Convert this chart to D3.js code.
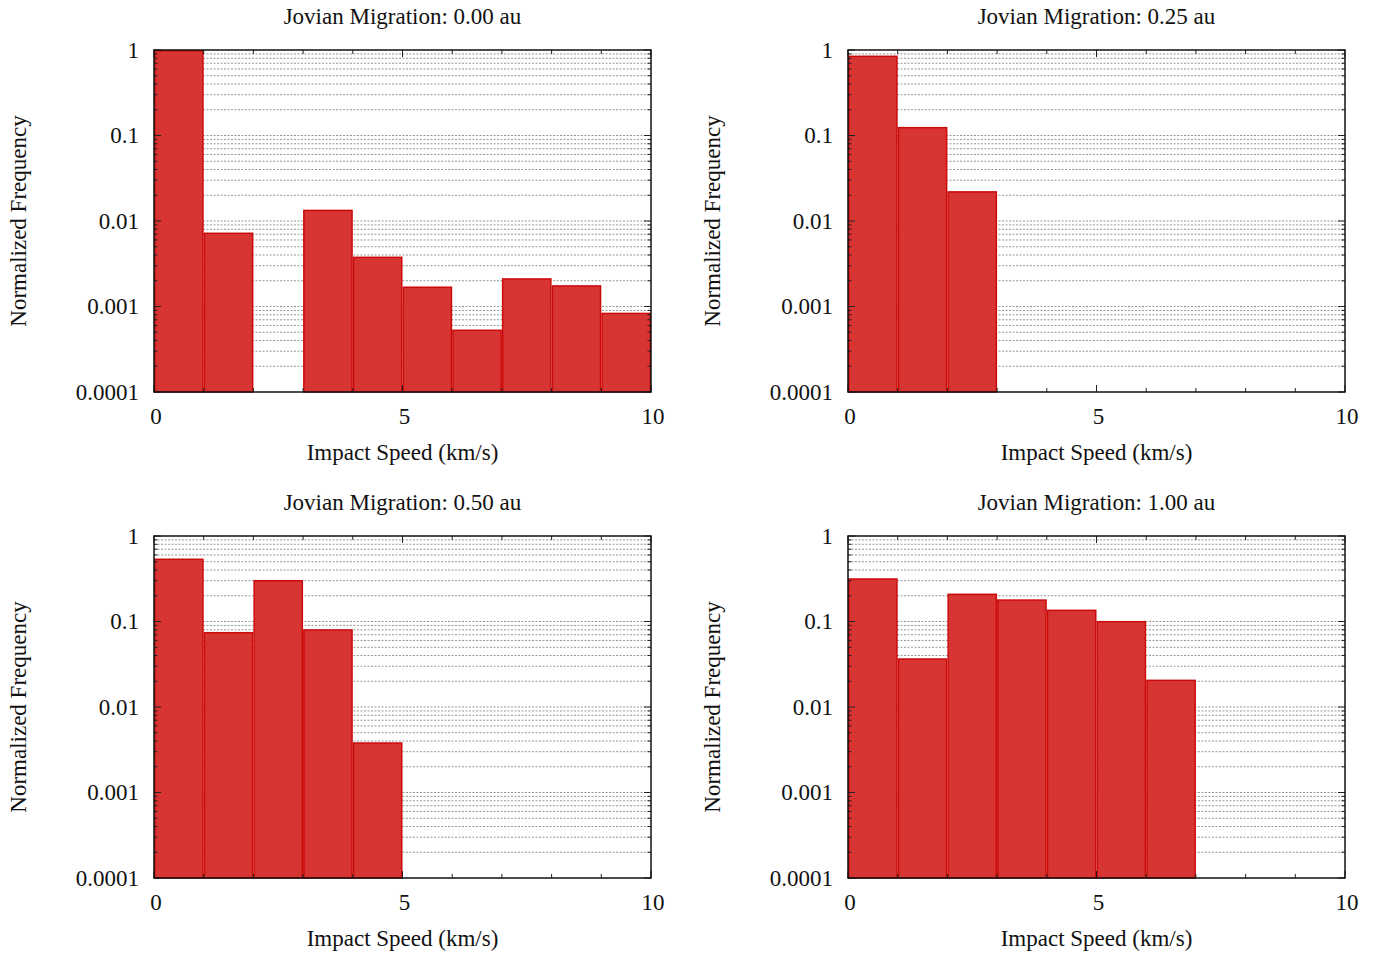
<!DOCTYPE html>
<html>
<head>
<meta charset="utf-8">
<script src="https://cdn.jsdelivr.net/npm/d3@7"></script>
<style>
  html, body { margin: 0; padding: 0; background: #fff; }
  svg { display: block; }
  text { font-family: "Liberation Serif", "Times New Roman", serif; fill: #111; }
</style>
</head>
<body>
<svg id="chart" width="1385" height="953"></svg>
<script>
// Impact speed bins (km/s): each bin starts at the value and is 1 km/s wide
const binStarts = [0, 1, 2, 3, 4, 5, 6, 7, 8, 9];
const binWidth = 1;

// Normalized frequency per bin for each migration distance (null = empty bin)
const freq000 = [0.98, 0.00718, null, 0.0133, 0.00376, 0.00168, 0.000527, 0.0021, 0.00174, 0.00083];
const freq025 = [0.844, 0.1235, 0.0219, null, null, null, null, null, null, null];
const freq050 = [0.534, 0.074, 0.30, 0.0796, 0.00379, null, null, null, null, null];
const freq100 = [0.314, 0.0364, 0.208, 0.178, 0.135, 0.0995, 0.0205, null, null, null];

const panelTitles = [
  "Jovian Migration: 0.00 au",
  "Jovian Migration: 0.25 au",
  "Jovian Migration: 0.50 au",
  "Jovian Migration: 1.00 au"
];
const panelSeries = [freq000, freq025, freq050, freq100];

// Axis ticks
const xMajorTicks = [0, 5, 10];
const xMinorTicks = [1, 2, 3, 4, 6, 7, 8, 9];
const yMajorTicks = [1, 0.1, 0.01, 0.001, 0.0001];
const yTickLabels = ["1", "0.1", "0.01", "0.001", "0.0001"];
const xLabel = "Impact Speed (km/s)";
const yLabel = "Normalized Frequency";

const svg = d3.select("#chart");
const fontSize = 23;

const plotW = 497, plotH = 342;
const origins = [[154, 50], [848, 50], [154, 536], [848, 536]];

// Minor log positions: 2..9 within each decade
const yMinorTicks = [];
for (let e = -4; e < 0; e++) {
  for (let m = 2; m <= 9; m++) yMinorTicks.push(m * Math.pow(10, e));
}

panelSeries.forEach((series, i) => {
  const [ox, oy] = origins[i];
  const g = svg.append("g").attr("transform", `translate(${ox},${oy})`);

  const x = d3.scaleLinear().domain([0, 10]).range([0, plotW]);
  const y = d3.scaleLog().domain([0.0001, 1]).range([plotH, 0]);

  // dotted horizontal grid at every major and minor log position
  g.append("g").selectAll("line")
    .data(yMajorTicks.concat(yMinorTicks).filter(v => v < 1 && v > 0.0001))
    .join("line")
    .attr("x1", 0).attr("x2", plotW)
    .attr("y1", d => y(d)).attr("y2", d => y(d))
    .attr("stroke", "#8a8a8a")
    .attr("stroke-width", 0.9)
    .attr("stroke-dasharray", "2,1.5");

  // histogram bars
  const bars = binStarts.map((b, k) => ({ x0: b, v: series[k] })).filter(d => d.v != null);
  g.append("g").selectAll("rect")
    .data(bars)
    .join("rect")
    .attr("x", d => x(d.x0) + 0.75)
    .attr("width", d => x(d.x0 + binWidth) - x(d.x0) - 1.5)
    .attr("y", d => y(Math.min(d.v, 1)))
    .attr("height", d => y(0.0001) - y(Math.min(d.v, 1)))
    .attr("fill", "#d73434")
    .attr("stroke", "#cc0a0a")
    .attr("stroke-width", 1.5);

  // ticks on all four sides, pointing inward
  const tickG = g.append("g").attr("stroke", "#222").attr("stroke-width", 1);
  const yTick = (vals, len) => {
    vals.forEach(v => {
      tickG.append("line").attr("x1", 0).attr("x2", len).attr("y1", y(v)).attr("y2", y(v));
      tickG.append("line").attr("x1", plotW).attr("x2", plotW - len).attr("y1", y(v)).attr("y2", y(v));
    });
  };
  yTick(yMajorTicks, 7);
  yTick(yMinorTicks, 3.5);
  const xTick = (vals, len) => {
    vals.forEach(v => {
      tickG.append("line").attr("x1", x(v)).attr("x2", x(v)).attr("y1", plotH).attr("y2", plotH - len);
      tickG.append("line").attr("x1", x(v)).attr("x2", x(v)).attr("y1", 0).attr("y2", len);
    });
  };
  xTick(xMajorTicks, 7);
  xTick(xMinorTicks, 4);

  // frame
  g.append("rect")
    .attr("x", 0).attr("y", 0).attr("width", plotW).attr("height", plotH)
    .attr("fill", "none").attr("stroke", "#111").attr("stroke-width", 1.5);

  // tick labels
  g.append("g").selectAll("text")
    .data(yMajorTicks)
    .join("text")
    .attr("x", -15)
    .attr("y", d => y(d))
    .attr("dy", "0.33em")
    .attr("text-anchor", "end")
    .style("font-size", fontSize + "px")
    .text((d, k) => yTickLabels[k]);

  g.append("g").selectAll("text")
    .data(xMajorTicks)
    .join("text")
    .attr("x", d => x(d) + 2)
    .attr("y", plotH + 24)
    .attr("dy", "0.33em")
    .attr("text-anchor", "middle")
    .style("font-size", fontSize + "px")
    .text(d => d);

  // titles
  g.append("text")
    .attr("x", plotW / 2).attr("y", -34).attr("dy", "0.33em")
    .attr("text-anchor", "middle")
    .style("font-size", fontSize + "px")
    .text(panelTitles[i]);

  g.append("text")
    .attr("x", plotW / 2).attr("y", plotH + 60).attr("dy", "0.33em")
    .attr("text-anchor", "middle")
    .style("font-size", fontSize + "px")
    .text(xLabel);

  g.append("text")
    .attr("transform", `translate(-136,${plotH / 2}) rotate(-90)`)
    .attr("dy", "0.33em")
    .attr("text-anchor", "middle")
    .style("font-size", fontSize + "px")
    .text(yLabel);
});
</script>
</body>
</html>
